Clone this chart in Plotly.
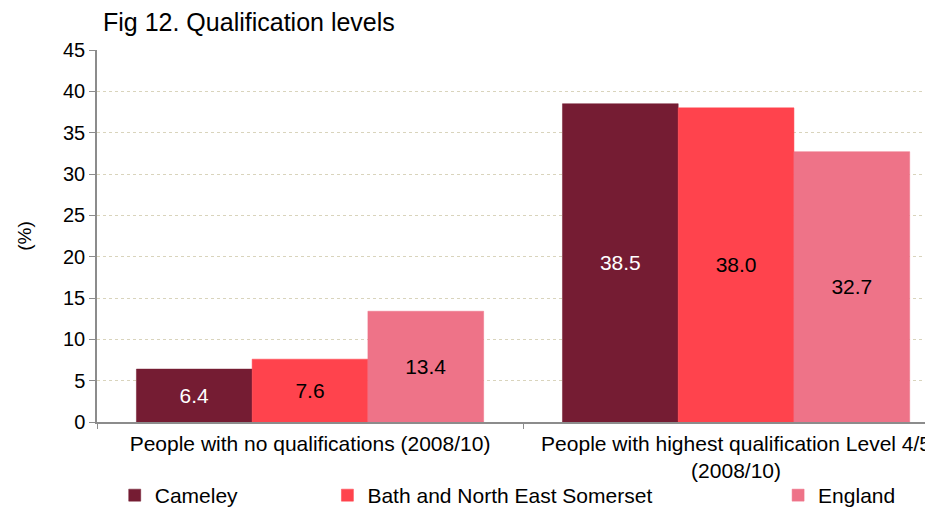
import plotly.graph_objects as go

categories = [
    "People with no qualifications (2008/10)",
    "People with highest qualification Level 4/5<br>(2008/10)",
]
series_names = ["Cameley", "Bath and North East Somerset", "England"]
cameley = [6.4, 38.5]
banes = [7.6, 38.0]
england = [13.4, 32.7]

colors = ["#751C33", "#FF434D", "#EE7388"]
text_colors = ["white", "black", "black"]
legend_ids = ["legend", "legend2", "legend3"]
legend_x = [0.021, 0.273, 0.807]

FONT = "Liberation Sans, Arial, sans-serif"

fig = go.Figure()
for name, vals, col, tcol, lg in zip(series_names, [cameley, banes, england], colors, text_colors, legend_ids):
    fig.add_trace(
        go.Bar(
            x=categories,
            y=vals,
            name=name,
            marker={"color": col, "line": {"color": col, "width": 0.5}},
            text=[f"{v:.1f}" for v in vals],
            textposition="inside",
            insidetextanchor="middle",
            textangle=0,
            textfont={"color": tcol, "size": 21, "family": FONT},
            legend=lg,
        )
    )

legend_common = {
    "orientation": "h",
    "y": -0.198,
    "yanchor": "middle",
    "xanchor": "left",
    "font": {"size": 21, "family": FONT, "color": "black"},
    "bgcolor": "rgba(0,0,0,0)",
    "itemclick": False,
}

fig.update_layout(
    width=933,
    height=508,
    margin={"l": 89, "r": 0, "t": 42, "b": 89},
    paper_bgcolor="white",
    plot_bgcolor="white",
    barmode="group",
    bargap=0.185,
    bargroupgap=0,
    uniformtext={"minsize": 8, "mode": "show"},
    font={"family": FONT, "size": 20, "color": "black"},
    title={
        "text": "Fig 12. Qualification levels",
        "x": 95 / 933,
        "xanchor": "left",
        "y": 1 - 14 / 508,
        "yanchor": "middle",
        "font": {"size": 25, "family": FONT, "color": "black"},
    },
    legend={**legend_common, "x": legend_x[0]},
    legend2={**legend_common, "x": legend_x[1]},
    legend3={**legend_common, "x": legend_x[2]},
    showlegend=True,
)

fig.update_xaxes(
    range=[-0.5, 1.481],
    showline=True,
    linecolor="#8C8C8C",
    linewidth=1.5,
    ticks="outside",
    tickson="boundaries",
    ticklen=5,
    tickcolor="#8C8C8C",
    tickfont={"size": 21, "family": FONT, "color": "black"},
    ticklabelstandoff=2,
    automargin=False,
    showgrid=False,
)
fig.update_yaxes(
    range=[0, 45],
    dtick=5,
    showline=True,
    linecolor="#8C8C8C",
    linewidth=1.5,
    ticks="outside",
    ticklen=6,
    tickcolor="#8C8C8C",
    tickfont={"size": 20, "family": FONT, "color": "black"},
    showgrid=True,
    gridcolor="#D9D4BC",
    griddash="dot",
    gridwidth=1,
    zeroline=False,
    title={"text": "(%)", "font": {"size": 19, "family": FONT}, "standoff": 26},
    automargin=False,
)

fig.write_html("out.html")
